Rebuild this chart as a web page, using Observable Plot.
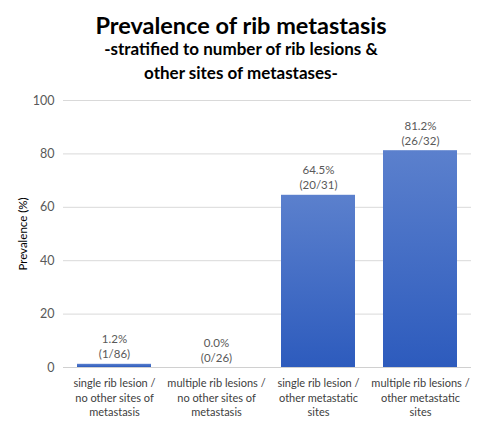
<!DOCTYPE html>
<html>
<head>
<meta charset="utf-8">
<script src="https://cdn.jsdelivr.net/npm/d3@7"></script>
<script src="https://cdn.jsdelivr.net/npm/@observablehq/plot@0.6"></script>
<style>
  html, body { margin: 0; padding: 0; background: #fff; }
  #chart { width: 490px; font-family: Lato, "Open Sans", sans-serif; }
  .head { height: 88px; text-align: center; color: #000; padding-right: 8px; box-sizing: border-box; }
  .head .t { font-weight: 700; font-size: 23.5px; line-height: 26px; padding-top: 12px; }
  .head .s { font-weight: 700; font-size: 17px; line-height: 24px; margin-top: -1px; }
  svg { display: block; }
</style>
</head>
<body>
<div id="chart">
  <div class="head">
    <div class="t">Prevalence of rib metastasis</div>
    <div class="s">-stratified to number of rib lesions &amp;<br>other sites of metastases-</div>
  </div>
</div>
<script>
// Categories (one per bar), the prevalence in percent and the raw counts.
const categories = [
  "single rib lesion /\nno other sites of\nmetastasis",
  "multiple rib lesions /\nno other sites of\nmetastasis",
  "single rib lesion /\nother metastatic\nsites",
  "multiple rib lesions /\nother metastatic\nsites"
];
const prevalence = [1.2, 0.0, 64.5, 81.2];
const counts = ["(1/86)", "(0/26)", "(20/31)", "(26/32)"];
const yTicks = [0, 20, 40, 60, 80, 100];

const rows = categories.map((c, i) => ({ cat: c, value: prevalence[i], count: counts[i] }));

// Excel-style vertical gradient shared by every bar.
function gradientDefs() {
  const svgNS = "http://www.w3.org/2000/svg";
  const defs = document.createElementNS(svgNS, "defs");
  const g = document.createElementNS(svgNS, "linearGradient");
  g.setAttribute("id", "barGrad");
  g.setAttribute("x1", "0"); g.setAttribute("y1", "0");
  g.setAttribute("x2", "0"); g.setAttribute("y2", "1");
  [["0%", "#5b80cd"], ["100%", "#2d5bbd"]].forEach(([o, c]) => {
    const s = document.createElementNS(svgNS, "stop");
    s.setAttribute("offset", o);
    s.setAttribute("stop-color", c);
    g.appendChild(s);
  });
  defs.appendChild(g);
  return defs;
}

const chart = Plot.plot({
  width: 490,
  height: 343,
  marginTop: 12,
  marginBottom: 64,
  marginLeft: 63,
  marginRight: 19,
  style: { fontFamily: "Lato, 'Open Sans', sans-serif", fontSize: "12px", color: "#595959", background: "#fff" },
  x: { domain: categories, paddingInner: 0.275, paddingOuter: 0.1375, label: null },
  y: { domain: [0, 100], label: null },
  marks: [
    gradientDefs,
    Plot.gridY(yTicks, { stroke: "#d9d9d9", strokeOpacity: 1 }),
    Plot.barY(rows, { x: "cat", y: "value", fill: "url(#barGrad)" }),
    Plot.ruleY([0], { stroke: "#d0d0d0" }),
    Plot.axisY({ ticks: yTicks, tickSize: 0, tickPadding: 9, label: null, fontSize: 12.5, fill: "#595959" }),
    Plot.axisX({ tickSize: 0, tickPadding: 9, label: null, fontSize: 11, fill: "#404040", lineHeight: 1.33 }),
    Plot.text(rows, {
      x: "cat", y: "value",
      text: d => d.value.toFixed(1) + "%\n" + d.count,
      lineAnchor: "bottom", dy: -6, fontSize: 11.5, fill: "#595959", lineHeight: 1.3
    }),
    Plot.text(["Prevalence (%)"], {
      frameAnchor: "left", dx: -40, rotate: -90, textAnchor: "middle",
      fontSize: 11.5, fill: "#000"
    })
  ]
});
document.getElementById("chart").appendChild(chart);
</script>
</body>
</html>
